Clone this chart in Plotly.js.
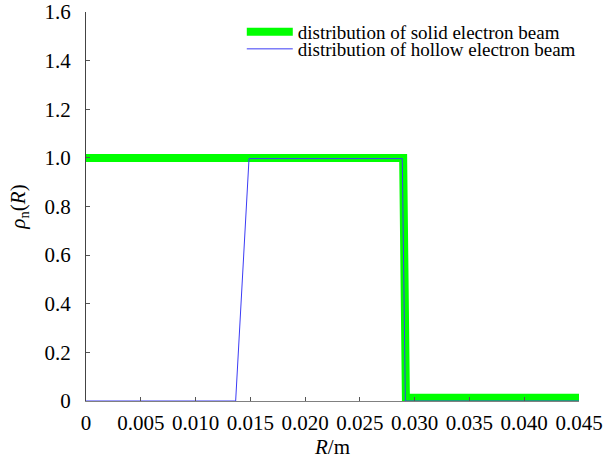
<!DOCTYPE html>
<html>
<head>
<meta charset="utf-8">
<script src="https://cdn.plot.ly/plotly-3.0.1.min.js"></script>
<style>
  html, body { margin: 0; padding: 0; background: #ffffff; }
  #chart { width: 603px; height: 472px; }
</style>
</head>
<body>
<div id="chart"></div>
<script>
// Radial density profiles of the two beams, R in metres
const solidR = [0, 0.02895, 0.0292, 0.045];
const solidRho = [1.0, 1.0, 0.013, 0.013];

const hollowR = [0, 0.01366, 0.01488, 0.02887, 0.02915, 0.045];
const hollowRho = [0, 0, 0.997, 0.997, 0, 0];

const xTickVals = [0, 0.005, 0.010, 0.015, 0.020, 0.025, 0.030, 0.035, 0.040, 0.045];
const xTickText = ['0', '0.005', '0.010', '0.015', '0.020', '0.025', '0.030', '0.035', '0.040', '0.045'];
const yTickVals = [0, 0.2, 0.4, 0.6, 0.8, 1.0, 1.2, 1.4, 1.6];
const yTickText = ['0', '0.2', '0.4', '0.6', '0.8', '1.0', '1.2', '1.4', '1.6'];

const serif = 'Liberation Serif, Times New Roman, serif';
const tickFont = { family: serif, size: 21, color: '#000000' };

const traces = [
  {
    x: solidR, y: solidRho, type: 'scatter', mode: 'lines',
    name: 'distribution of solid electron beam',
    legend: 'legend',
    line: { color: '#00ff00', width: 8 }
  },
  {
    x: hollowR, y: hollowRho, type: 'scatter', mode: 'lines',
    name: 'distribution of hollow electron beam',
    legend: 'legend2',
    line: { color: '#3b3bf5', width: 1 }
  }
];

// one legend per trace so the two rows can sit tightly together
const legendBase = {
  xanchor: 'left', yanchor: 'middle',
  bgcolor: 'rgba(0,0,0,0)', borderwidth: 0,
  font: { family: serif, size: 19, color: '#000000' },
  itemwidth: 46
};

const layout = {
  width: 603, height: 472,
  margin: { l: 86, r: 24, t: 12, b: 71 },
  paper_bgcolor: '#ffffff', plot_bgcolor: '#ffffff',
  font: { family: serif, size: 20, color: '#000000' },
  showlegend: true,
  legend: Object.assign({}, legendBase, { x: 0.316, y: 0.9486 }),
  legend2: Object.assign({}, legendBase, { x: 0.316, y: 0.9049 }),
  xaxis: {
    range: [0, 0.045], showgrid: false, zeroline: false,
    showline: true, linecolor: '#808080', linewidth: 1,
    ticks: 'inside', ticklen: 4, tickcolor: '#555555', tickwidth: 1,
    tickmode: 'array', tickvals: xTickVals, ticktext: xTickText,
    tickfont: tickFont, ticklabeloverflow: 'allow',
    ticklabelstandoff: 3,
    title: { text: '<i>R</i>/m', font: { family: serif, size: 21 }, standoff: 4 }
  },
  yaxis: {
    range: [0, 1.6], showgrid: false, zeroline: false,
    showline: true, linecolor: '#444444', linewidth: 1,
    ticks: 'inside', ticklen: 4, tickcolor: '#555555', tickwidth: 1,
    tickmode: 'array', tickvals: yTickVals, ticktext: yTickText,
    tickfont: tickFont, ticklabeloverflow: 'allow',
    ticklabelstandoff: 10,
    title: { text: '<i>ρ</i><sub>n</sub>(<i>R</i>)', font: { family: serif, size: 21 }, standoff: 13 }
  }
};

Plotly.newPlot('chart', traces, layout, { staticPlot: true, displayModeBar: false });
</script>
</body>
</html>
